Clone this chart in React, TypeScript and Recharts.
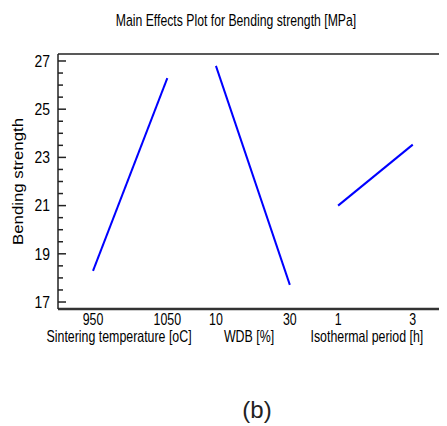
import React from "react";
import { LineChart, Line, XAxis, YAxis } from "recharts";

// Factor level positions along the shared horizontal axis (0-100 scale)
const levelPositions = [9.0, 28.1, 40.6, 59.6, 72.0, 91.2];
const levelLabels = ["950", "1050", "10", "30", "1", "3"];

const factorPositions = [15.7, 49.1, 79.4];
const factorNames = ["Sintering temperature [oC]", "WDB [%]", "Isothermal period [h]"];

// Mean bending strength at each level
const sinteringMeans = [18.29, 26.29];
const wdbMeans = [26.8, 17.71];
const isothermalMeans = [21.0, 23.53];

const yMajorTicks = [17, 19, 21, 23, 25, 27];
const yMinorTicks = [17.5, 18, 18.5, 19.5, 20, 20.5, 21.5, 22, 22.5, 23.5, 24, 24.5, 25.5, 26, 26.5];
const yDomain: [number, number] = [16.71, 27.29];

const seg1 = sinteringMeans.map((y, i) => ({ x: levelPositions[i], y }));
const seg2 = wdbMeans.map((y, i) => ({ x: levelPositions[2 + i], y }));
const seg3 = isothermalMeans.map((y, i) => ({ x: levelPositions[4 + i], y }));

const FONT = "'Liberation Sans', Arial, sans-serif";
const AXIS = "#222";
const THIN = 0.01;

const labelMap: Record<string, string> = {};
levelPositions.forEach((p, i) => (labelMap[String(p)] = levelLabels[i]));
const nameMap: Record<string, string> = {};
factorPositions.forEach((p, i) => (nameMap[String(p)] = factorNames[i]));

function XTick(props: any) {
  const { x, y, payload, map } = props;
  const txt = map[String(payload.value)] ?? "";
  return (
    <g transform={`translate(${x},${y}) scale(0.75,1)`}>
      <text x={0} y={0} dy="0.71em" textAnchor="middle" fontFamily={FONT} fontSize={16.5} fill="#000">
        {txt}
      </text>
    </g>
  );
}

function YTick(props: any) {
  const { x, y, payload } = props;
  return (
    <g transform={`translate(${x},${y}) scale(0.87,1)`}>
      <text x={0} y={0} dy="0.36em" textAnchor="end" fontFamily={FONT} fontSize={16} fill="#000">
        {String(payload.value)}
      </text>
    </g>
  );
}

const noTick = () => <g />;

export default function App() {
  return (
    <div style={{ position: "relative", width: 439, height: 418 }}>
      <LineChart
        width={439}
        height={418}
        margin={{ top: 46, right: 0, bottom: 77, left: 0 }}
        style={{ position: "absolute", left: 0, top: 0 }}
      >
        <XAxis
          xAxisId="a"
          dataKey="x"
          type="number"
          domain={[0, 100]}
          ticks={levelPositions}
          interval={0}
          height={18}
          tickLine={false}
          tickSize={2}
          tickMargin={2}
          axisLine={{ stroke: "#333", strokeWidth: 2.5 }}
          tick={(p: any) => <XTick {...p} map={labelMap} />}
          allowDataOverflow
        />
        <XAxis
          xAxisId="b"
          dataKey="x"
          type="number"
          domain={[0, 100]}
          ticks={factorPositions}
          interval={0}
          height={22}
          tickLine={false}
          axisLine={false}
          tickSize={1}
          tickMargin={2}
          tick={(p: any) => <XTick {...p} map={nameMap} />}
          allowDataOverflow
        />
        <XAxis
          xAxisId="t"
          dataKey="x"
          orientation="top"
          type="number"
          domain={[0, 100]}
          mirror
          height={THIN}
          ticks={[50]}
          tick={noTick}
          tickLine={false}
          axisLine={{ stroke: AXIS, strokeWidth: 1.5 }}
          allowDataOverflow
        />
        <YAxis
          yAxisId="main"
          type="number"
          domain={yDomain}
          ticks={yMajorTicks}
          interval={0}
          width={50}
          tickLine={false}
          tickSize={6}
          tickMargin={2}
          axisLine={{ stroke: AXIS, strokeWidth: 1.5 }}
          tick={(p: any) => <YTick {...p} />}
          allowDataOverflow
        />
        <YAxis
          yAxisId="lmaj"
          type="number"
          domain={yDomain}
          ticks={yMajorTicks}
          interval={0}
          mirror
          width={THIN}
          tick={noTick}
          tickSize={8}
          tickLine={{ stroke: AXIS, strokeWidth: 1.5 }}
          axisLine={false}
          allowDataOverflow
        />
        <YAxis
          yAxisId="lmin"
          type="number"
          domain={yDomain}
          ticks={yMinorTicks}
          interval={0}
          mirror
          width={THIN}
          tick={noTick}
          tickSize={5}
          tickLine={{ stroke: AXIS, strokeWidth: 1.5 }}
          axisLine={false}
          allowDataOverflow
        />
        <YAxis
          yAxisId="rmaj"
          orientation="right"
          type="number"
          domain={yDomain}
          ticks={yMajorTicks}
          interval={0}
          mirror
          width={THIN}
          tick={noTick}
          tickSize={7}
          tickLine={{ stroke: AXIS, strokeWidth: 1.5 }}
          axisLine={false}
          allowDataOverflow
        />
        <YAxis
          yAxisId="rmin"
          orientation="right"
          type="number"
          domain={yDomain}
          ticks={yMinorTicks}
          interval={0}
          mirror
          width={THIN}
          tick={noTick}
          tickSize={4}
          tickLine={{ stroke: AXIS, strokeWidth: 1.5 }}
          axisLine={false}
          allowDataOverflow
        />
        {/* invisible helper series so every auxiliary axis is bound and drawn */}
        <Line data={seg1} dataKey="y" xAxisId="b" yAxisId="lmaj" stroke="none" dot={false} activeDot={false} isAnimationActive={false} />
        <Line data={seg1} dataKey="y" xAxisId="t" yAxisId="lmin" stroke="none" dot={false} activeDot={false} isAnimationActive={false} />
        <Line data={seg1} dataKey="y" xAxisId="a" yAxisId="rmaj" stroke="none" dot={false} activeDot={false} isAnimationActive={false} />
        <Line data={seg1} dataKey="y" xAxisId="a" yAxisId="rmin" stroke="none" dot={false} activeDot={false} isAnimationActive={false} />
        {[seg1, seg2, seg3].map((seg, i) => (
          <Line
            key={i}
            data={seg}
            dataKey="y"
            xAxisId="a"
            yAxisId="main"
            type="linear"
            stroke="#0000ff"
            strokeWidth={2}
            dot={false}
            activeDot={false}
            isAnimationActive={false}
          />
        ))}
      </LineChart>
      <svg
        width={439}
        height={418}
        style={{ position: "absolute", left: 0, top: 0, pointerEvents: "none" }}
      >
        <g transform="translate(228,17.7) scale(0.72,1)">
          <text x={0} y={0} textAnchor="middle" fontFamily={FONT} fontSize={17} fill="#000">
            Main Effects Plot for Bending strength [MPa]
          </text>
        </g>
        <g transform="translate(15.3,173.5) rotate(-90) scale(1.2,1)">
          <text x={0} y={0} textAnchor="middle" fontFamily={FONT} fontSize={14} fill="#000">
            Bending strength
          </text>
        </g>
        <text x={249} y={410} textAnchor="middle" fontFamily={FONT} fontSize={24} fill="#222">
          (b)
        </text>
      </svg>
    </div>
  );
}
